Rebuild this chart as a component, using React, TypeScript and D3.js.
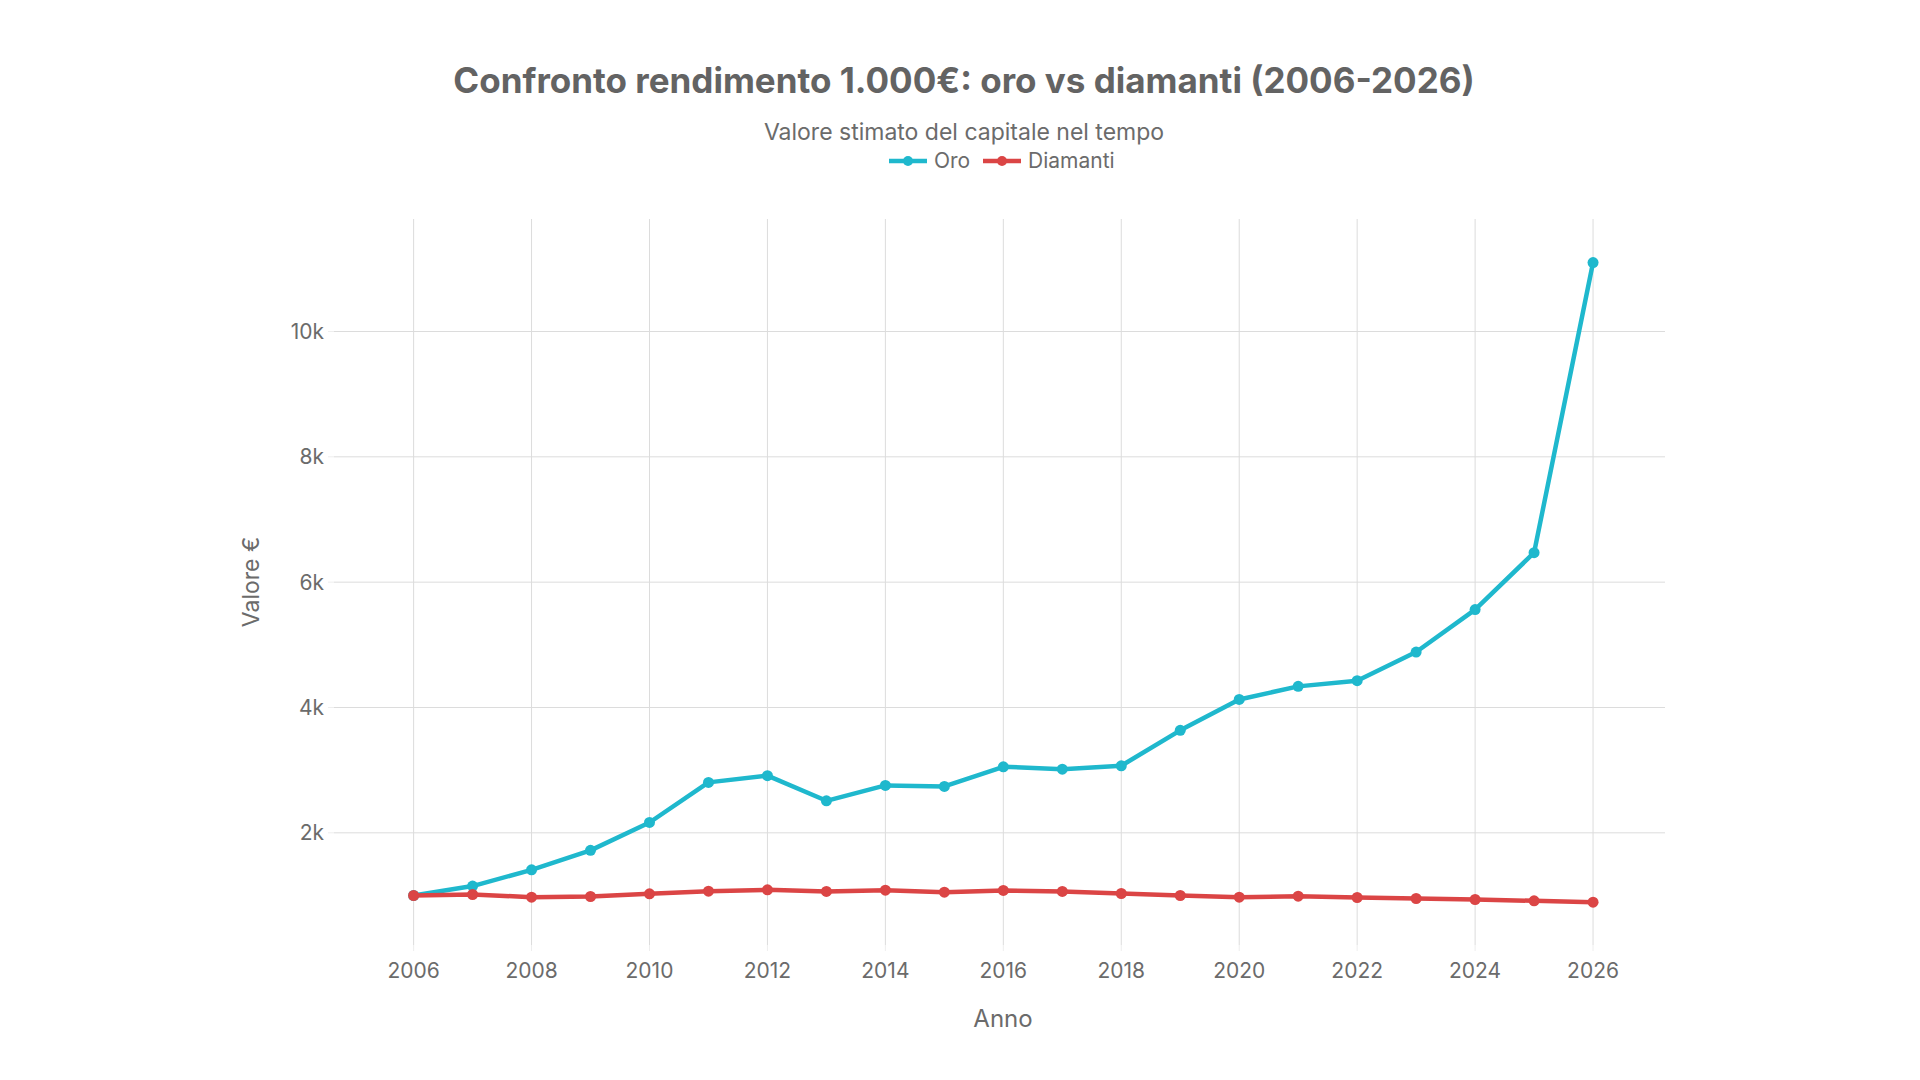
import React from 'react'
import * as d3 from 'd3'

// anni e valori
const years = [
	2006, 2007, 2008, 2009, 2010, 2011, 2012, 2013, 2014, 2015, 2016, 2017, 2018, 2019, 2020, 2021,
	2022, 2023, 2024, 2025, 2026,
]
const oro = [
	1000, 1150, 1410, 1720, 2165, 2805, 2912, 2511, 2757, 2740, 3054, 3016, 3070, 3635, 4128, 4337,
	4427, 4885, 5562, 6470, 11100,
]
const diamanti = [
	1000, 1016, 973, 984, 1027, 1069, 1090, 1064, 1085, 1053, 1080, 1064, 1032, 1000, 973, 989, 968,
	952, 936, 915, 894,
]
const xTicks = [2006, 2008, 2010, 2012, 2014, 2016, 2018, 2020, 2022, 2024, 2026]
const yTicks = [2000, 4000, 6000, 8000, 10000]
const seriesNames = ['Oro', 'Diamanti']
const colors = ['#1FB8CD', '#DB4545']

const width = 1920
const height = 1080
const plot = { left: 334, right: 1665, top: 219, bottom: 945 }
const font = 'Inter, "Liberation Sans", sans-serif'
const textColor = '#6b6b6b'
const gridColor = '#dcdcdc'

const App = () => {
	const x = d3.scaleLinear().domain([2004.65, 2027.22]).range([plot.left, plot.right])
	const y = d3.scaleLinear().domain([210, 11795]).range([plot.bottom, plot.top])

	const line = d3
		.line<number>()
		.x((d, i) => x(years[i]))
		.y(d => y(d))

	const series = [oro, diamanti]
	const fmt = (v: number) => v / 1000 + 'k'

	// legenda centrata sotto il sottotitolo
	const legendItems = [
		{ name: seriesNames[0], x0: 889, tx: 934 },
		{ name: seriesNames[1], x0: 983, tx: 1028 },
	]

	return (
		<>
			<style>{`body{margin:0}`}</style>
			<svg width={width} height={height} style={{ display: 'block', background: '#fff' }}>
				<text
					x={964}
					y={93}
					textAnchor="middle"
					fontFamily={font}
					fontWeight={700}
					fontSize={35}
					fill="#636363"
				>
					Confronto rendimento 1.000€: oro vs diamanti (2006-2026)
				</text>
				<text x={964} y={140} textAnchor="middle" fontFamily={font} fontSize={23} fill={textColor}>
					Valore stimato del capitale nel tempo
				</text>

				{legendItems.map((it, i) => (
					<g key={it.name}>
						<line
							x1={it.x0}
							x2={it.x0 + 38}
							y1={161}
							y2={161}
							stroke={colors[i]}
							strokeWidth={4.5}
						/>
						<circle cx={it.x0 + 19} cy={161} r={5} fill={colors[i]} />
						<text x={it.tx} y={168} fontFamily={font} fontSize={21} fill={textColor}>
							{it.name}
						</text>
					</g>
				))}

				{/* griglia */}
				{yTicks.map(t => (
					<g key={'y' + t}>
						<line
							x1={plot.left}
							x2={plot.right}
							y1={y(t)}
							y2={y(t)}
							stroke={gridColor}
							strokeWidth={1}
						/>
						<line x1={plot.left - 6} x2={plot.left} y1={y(t)} y2={y(t)} stroke="#eeeeee" />
						<text
							x={plot.left - 10}
							y={y(t)}
							dy="0.35em"
							textAnchor="end"
							fontFamily={font}
							fontSize={21}
							fill={textColor}
						>
							{fmt(t)}
						</text>
					</g>
				))}
				{xTicks.map(t => (
					<g key={'x' + t}>
						<line
							x1={x(t)}
							x2={x(t)}
							y1={plot.top}
							y2={plot.bottom}
							stroke={gridColor}
							strokeWidth={1}
						/>
						<line x1={x(t)} x2={x(t)} y1={plot.bottom} y2={plot.bottom + 6} stroke="#eeeeee" />
						<text
							x={x(t)}
							y={978}
							textAnchor="middle"
							fontFamily={font}
							fontSize={21}
							fill={textColor}
						>
							{t}
						</text>
					</g>
				))}

				{/* linee */}
				{series.map((s, i) => (
					<g key={seriesNames[i]}>
						<path
							d={line(s) || ''}
							fill="none"
							stroke={colors[i]}
							strokeWidth={4.5}
							strokeLinejoin="round"
						/>
						{s.map((v, j) => (
							<circle key={j} cx={x(years[j])} cy={y(v)} r={5.5} fill={colors[i]} />
						))}
					</g>
				))}

				<text
					x={1003}
					y={1027}
					textAnchor="middle"
					fontFamily={font}
					fontSize={24}
					fill={textColor}
				>
					Anno
				</text>
				<text
					transform={`translate(259,${(plot.top + plot.bottom) / 2}) rotate(-90)`}
					textAnchor="middle"
					fontFamily={font}
					fontSize={23}
					fill={textColor}
				>
					Valore €
				</text>
			</svg>
		</>
	)
}

export default App
